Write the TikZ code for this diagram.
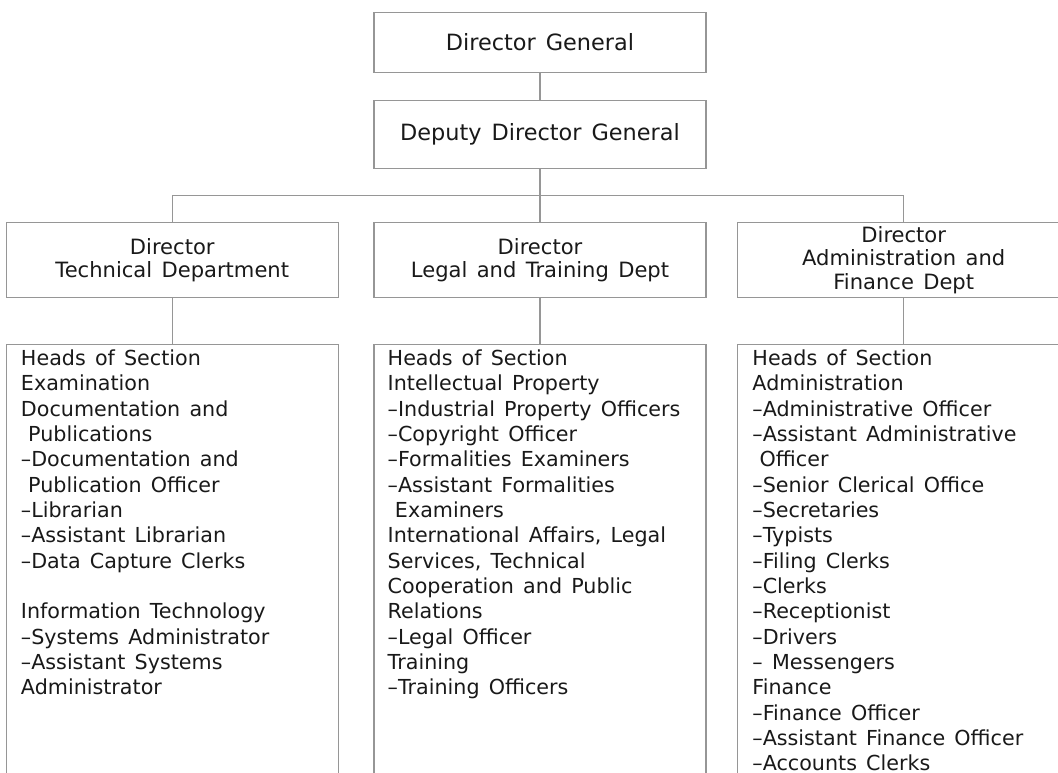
\documentclass[tikz,border=0pt]{standalone}
\usepackage{fontspec}
\setmainfont{DejaVu Sans}[WordSpace=1.4]
\usetikzlibrary{positioning,calc}

\definecolor{linegray}{RGB}{150,150,150}
\definecolor{textgray}{RGB}{25,25,25}

\tikzset{
  box/.style={draw=linegray, line width=0.8pt, minimum width=249pt, inner sep=0pt, text=textgray},
  topbox/.style={box, font={\fontsize{16.8pt}{20pt}\selectfont}},
  headbox/.style={box, minimum height=56pt, align=center, font={\fontsize{15.8pt}{17.6pt}\selectfont}},
  listbox/.style={box, minimum height=450pt},
  listtext/.style={inner sep=0pt, align=left, text=textgray, anchor=north west, font={\fontsize{15.5pt}{19pt}\selectfont}},
  link/.style={draw=linegray, line width=0.8pt}
}
\newcommand{\ind}{\hspace*{0.35em}}

\begin{document}
\begin{tikzpicture}
    \useasboundingbox (0,0) rectangle (793.5pt,-579.75pt);
    \clip (0,0) rectangle (793.5pt,-579.75pt);

    \node (DG) [topbox, minimum height=45pt, anchor=north] at (405pt,-9pt) {Director General};
    \node (DDG) [topbox, minimum height=51pt, below=20.25pt of DG] {Deputy Director General};
    \node (LT) [headbox, below=39.75pt of DDG] {Director\\Legal and Training Dept};
    \node (TD) [headbox, left=26pt of LT] {Director\\Technical Department};
    \node (AF) [headbox, right=23pt of LT] {Director\\Administration and\\Finance Dept};

    \node (TDs) [listbox, below=34.5pt of TD] {};
    \node (LTs) [listbox, below=34.5pt of LT] {};
    \node (AFs) [listbox, below=34.5pt of AF] {};

    \node (TDt) [listtext] at ([shift={(11.25pt,-4.2pt)}]TDs.north west) {Heads of Section\\Examination\\Documentation and\\\ind Publications\\–Documentation and\\\ind Publication Officer\\–Librarian\\–Assistant Librarian\\–Data Capture Clerks\\\mbox{}\\Information Technology\\–Systems Administrator\\–Assistant Systems\\Administrator};
    \node (LTt) [listtext] at ([shift={(10.5pt,-4.2pt)}]LTs.north west) {Heads of Section\\Intellectual Property\\–Industrial Property Officers\\–Copyright Officer\\–Formalities Examiners\\–Assistant Formalities\\\ind Examiners\\International Affairs, Legal\\Services, Technical\\Cooperation and Public\\Relations\\–Legal Officer\\Training\\–Training Officers};
    \node (AFt) [listtext] at ([shift={(11.25pt,-4.2pt)}]AFs.north west) {Heads of Section\\Administration\\–Administrative Officer\\–Assistant Administrative\\\ind Officer\\–Senior Clerical Office\\–Secretaries\\–Typists\\–Filing Clerks\\–Clerks\\–Receptionist\\–Drivers\\–\ Messengers\\Finance\\–Finance Officer\\–Assistant Finance Officer\\–Accounts Clerks};

    \coordinate (bus) at ($(DDG.south)!0.5!(LT.north)$);
    \draw[link] (DG) -- (DDG);
    \draw[link] (DDG) -- (LT);
    \draw[link] (TD.north) |- (bus) -| (AF.north);
    \draw[link] (TD) -- (TDs);
    \draw[link] (LT) -- (LTs);
    \draw[link] (AF) -- (AFs);
  \end{tikzpicture}
\end{document}
